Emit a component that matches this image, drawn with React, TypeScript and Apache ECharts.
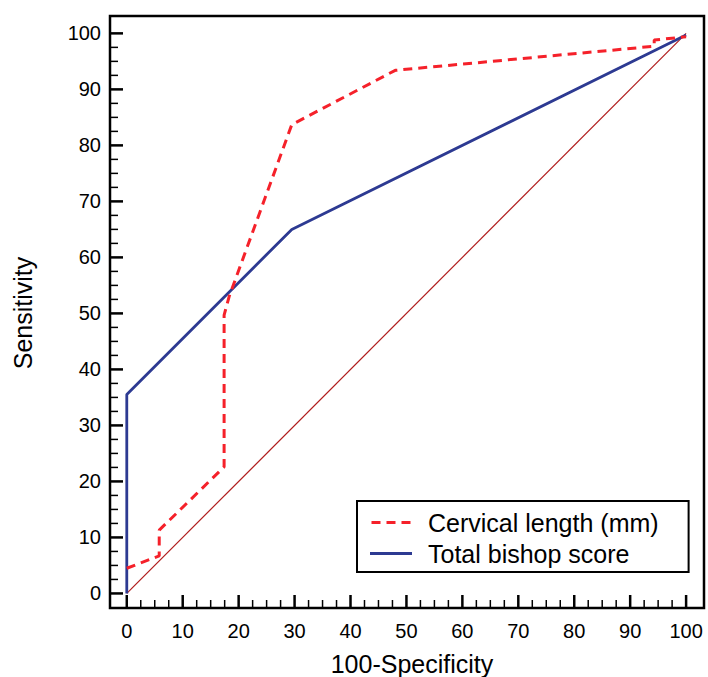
import React, { useEffect, useRef } from 'react';
import * as echarts from 'echarts';

const xTickValues = [0, 10, 20, 30, 40, 50, 60, 70, 80, 90, 100];
const yTickValues = [0, 10, 20, 30, 40, 50, 60, 70, 80, 90, 100];

const cervicalX = [0, 5.8, 5.8, 17.4, 17.4, 18.3, 29.5, 48, 94.3, 94.3, 100];
const cervicalY = [4.5, 6.7, 11.3, 22.6, 49.7, 53, 83.7, 93.4, 97.7, 98.8, 99.4];

const bishopX = [0, 0, 29.5, 100];
const bishopY = [0, 35.5, 65, 99.7];

const diagX = [0, 100];
const diagY = [0, 100];

const seriesNames = ['Cervical length (mm)', 'Total bishop score'];
const xTitle = '100-Specificity';
const yTitle = 'Sensitivity';

const FONT = 'Liberation Sans, Arial, Helvetica, sans-serif';

function pairs(xs: number[], ys: number[]) {
  return xs.map((x, i) => [x, ys[i]]);
}

function minorOf(majors: number[]) {
  const out: number[] = [];
  for (let i = 0; i < majors.length - 1; i++) {
    const step = (majors[i + 1] - majors[i]) / 4;
    for (let k = 1; k < 4; k++) out.push(majors[i] + step * k);
  }
  return out;
}

const X_MIN = -3;
const X_MAX = 103.2;
const Y_MIN = -2.6;
const Y_MAX = 103.1;

function tickSeries(name: string, data: number[][], size: number[], offset: number[]) {
  return {
    name,
    type: 'scatter',
    data,
    symbol: 'rect',
    symbolSize: size,
    symbolOffset: offset,
    symbolKeepAspect: false,
    clip: false,
    silent: true,
    itemStyle: { color: '#000', opacity: 1 },
    z: 10,
  };
}

export default function App() {
  const ref = useRef<HTMLDivElement>(null);
  useEffect(() => {
    const chart = echarts.init(ref.current!, null, { renderer: 'svg' });
    const labelStyle = { fontSize: 20, color: '#000', fontFamily: FONT };
    const xMinor = minorOf(xTickValues);
    const yMinor = minorOf(yTickValues);
    chart.setOption({
      animation: false,
      backgroundColor: '#fff',
      grid: {
        left: 110,
        top: 16,
        width: 594,
        height: 592,
        show: true,
        borderColor: '#000',
        borderWidth: 2.5,
        backgroundColor: 'transparent',
      },
      xAxis: {
        type: 'value',
        min: X_MIN,
        max: X_MAX,
        axisLine: { show: false, onZero: false },
        axisTick: { show: false },
        axisLabel: { ...labelStyle, margin: 13, customValues: xTickValues },
        splitLine: { show: false },
      },
      yAxis: {
        type: 'value',
        min: Y_MIN,
        max: Y_MAX,
        axisLine: { show: false, onZero: false },
        axisTick: { show: false },
        axisLabel: { ...labelStyle, margin: 9, customValues: yTickValues },
        splitLine: { show: false },
      },
      legend: {
        orient: 'vertical',
        left: 357,
        top: 501,
        data: [
          { name: seriesNames[0], icon: 'path://M0,0h9v3h-9z M15,0h9v3h-9z M30,0h9v3h-9z' },
          { name: seriesNames[1], icon: 'path://M0,0h42v3h-42z' },
        ],
        padding: [9, 30, 6, 13],
        itemWidth: 42,
        itemHeight: 3,
        itemGap: 6,
        borderColor: '#000',
        borderWidth: 2,
        backgroundColor: '#fff',
        textStyle: { fontSize: 25, color: '#000', fontFamily: FONT, padding: [0, 0, 0, 11] },
      },
      graphic: [
        {
          type: 'text',
          x: 412,
          y: 651,
          silent: true,
          style: { text: xTitle, fontSize: 25, fill: '#000', fontFamily: FONT, align: 'center', verticalAlign: 'top' },
        },
        {
          type: 'text',
          x: 23,
          y: 313,
          rotation: Math.PI / 2,
          silent: true,
          style: { text: yTitle, fontSize: 25, fill: '#000', fontFamily: FONT, align: 'center', verticalAlign: 'middle' },
        },
      ],
      series: [
        tickSeries('xMajorTicks', xTickValues.map((v) => [v, Y_MIN]), [2.5, 13], [0, -6.5]),
        tickSeries('xMinorTicks', xMinor.map((v) => [v, Y_MIN]), [1.5, 8], [0, -4]),
        tickSeries('yMajorTicks', yTickValues.map((v) => [X_MIN, v]), [13, 2.5], [6.5, 0]),
        tickSeries('yMinorTicks', yMinor.map((v) => [X_MIN, v]), [8, 1.5], [4, 0]),
        {
          name: 'diagonal',
          type: 'line',
          data: pairs(diagX, diagY),
          symbol: 'none',
          lineStyle: { color: '#b01c1c', width: 1.2 },
          z: 1,
        },
        {
          name: seriesNames[0],
          type: 'line',
          data: pairs(cervicalX, cervicalY),
          symbol: 'none',
          itemStyle: { color: '#f5212a' },
          lineStyle: { color: '#f5212a', width: 3, type: [9, 6] },
          z: 3,
        },
        {
          name: seriesNames[1],
          type: 'line',
          data: pairs(bishopX, bishopY),
          symbol: 'none',
          itemStyle: { color: '#2d3a92' },
          lineStyle: { color: '#2d3a92', width: 2.8 },
          z: 2,
        },
      ],
    });
    return () => chart.dispose();
  }, []);
  return (
    <div
      ref={ref}
      style={{ position: 'absolute', left: 0, top: 0, width: 708, height: 677 }}
    />
  );
}
